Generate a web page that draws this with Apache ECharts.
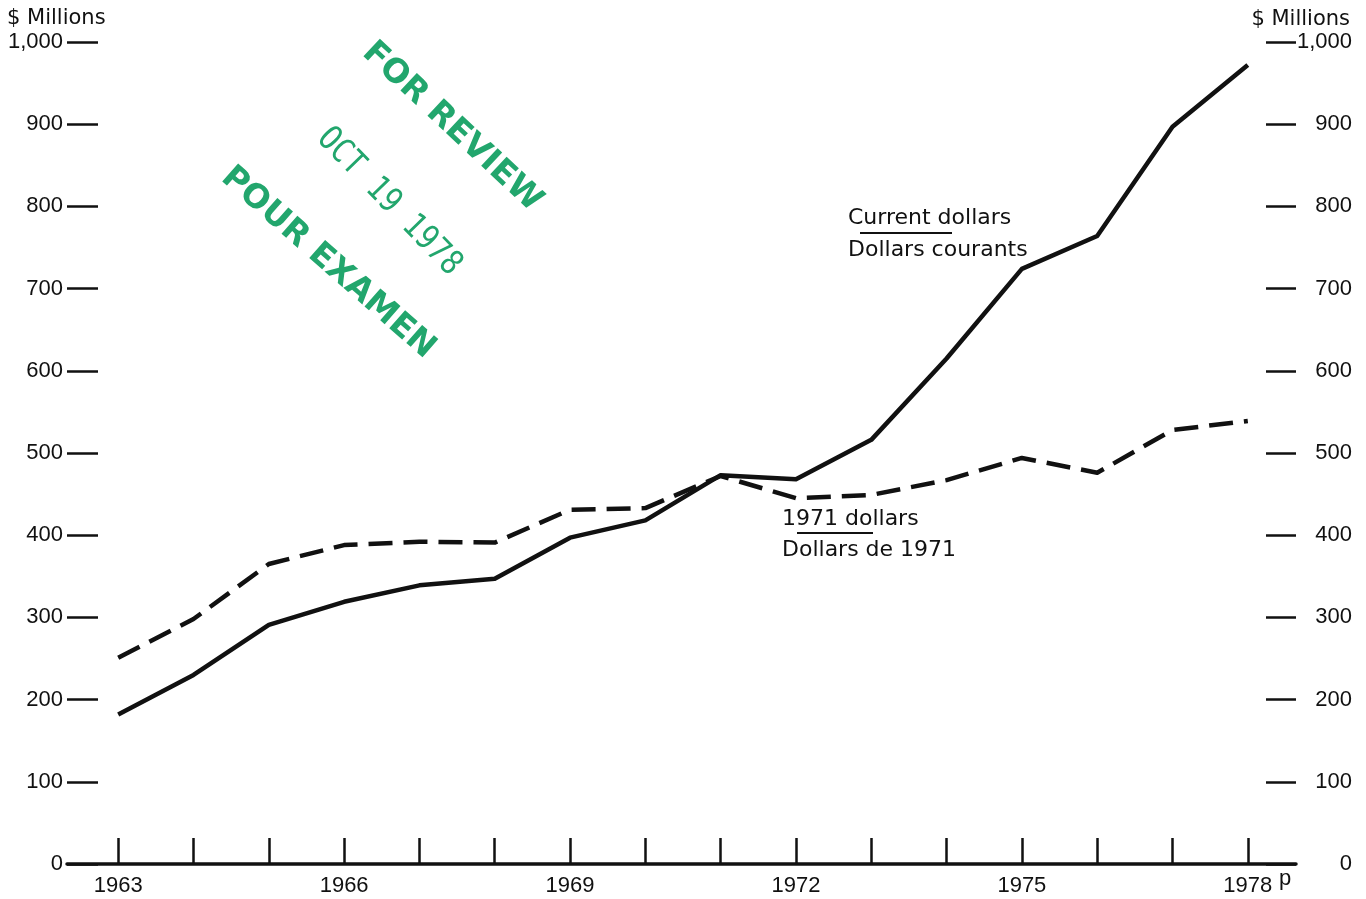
<!DOCTYPE html>
<html>
<head>
<meta charset="utf-8">
<title>$ Millions 1963-1978</title>
<script src="https://cdn.jsdelivr.net/npm/echarts@6/dist/echarts.min.js"></script>
<style>
    html, body { margin: 0; padding: 0; background: #fff; }
    #chart { width: 1366px; height: 899px; }
</style>
</head>
<body>
<div id="chart"></div>
<script>
    // years on the x axis
    const years = [1963, 1964, 1965, 1966, 1967, 1968, 1969, 1970, 1971, 1972, 1973, 1974, 1975, 1976, 1977, 1978];
    const yearLabels = [1963, 1966, 1969, 1972, 1975, 1978];
    // Current dollars / Dollars courants
    const currentDollars = [182, 230, 291, 319, 339, 347, 397, 418, 473, 468, 516, 615, 724, 764, 897, 972];
    // 1971 dollars / Dollars de 1971
    const dollars1971 = [251, 298, 365, 388, 392, 391, 431, 433, 472, 445, 449, 467, 494, 476, 528, 539];
    const yMin = 0, yMax = 1000, yStep = 100;

    const ink = '#111';
    const stampGreen = '#22a66d';
    const tickFont = '"Liberation Sans", Arial, sans-serif';
    const textFont = '"DejaVu Sans", sans-serif';

    let chart = echarts.init(document.getElementById('chart'));

    //y axes, left and right are the same
    function makeYAxis(pos) {
        return {
            type: 'value',
            position: pos,
            min: yMin,
            max: yMax,
            interval: yStep,
            splitLine: {show: false},
            axisLine: {show: false},
            axisTick: {
                show: true,
                inside: true,
                length: pos === 'left' ? 31 : 30,
                lineStyle: {color: ink, width: 2.5}
            },
            axisLabel: {
                color: ink,
                fontFamily: tickFont,
                fontSize: 22,
                margin: pos === 'left' ? 4 : 56,
                align: 'right'
            }
        };
    }

    chart.setOption({
        backgroundColor: '#fff',
        animation: false,
        grid: {
            left: 67,
            right: 70,
            top: 42,
            bottom: 35,
            containLabel: false,
            outerBoundsMode: 'none'
        },
        xAxis: {
            type: 'value',
            min: 1962.32,
            max: 1978.64,
            splitLine: {show: false},
            axisLine: {show: true, onZero: false, lineStyle: {color: ink, width: 3.5}},
            axisTick: {
                show: true,
                inside: true,
                length: 26,
                customValues: years,
                lineStyle: {color: ink, width: 2.5}
            },
            axisLabel: {
                customValues: yearLabels,
                formatter: function (v) { return String(v); },
                color: ink,
                fontFamily: tickFont,
                fontSize: 22,
                margin: 11
            }
        },
        yAxis: [makeYAxis('left'), makeYAxis('right')],
        series: [
            {
                name: 'Current dollars',
                type: 'line',
                showSymbol: false,
                data: years.map((y, i) => [y, currentDollars[i]]),
                lineStyle: {color: ink, width: 4.5, cap: 'butt', join: 'round'}
            },
            {
                name: '1971 dollars',
                type: 'line',
                showSymbol: false,
                data: years.map((y, i) => [y, dollars1971[i]]),
                lineStyle: {color: ink, width: 4.5, type: [24, 11], cap: 'butt', join: 'round'}
            }
        ],
        graphic: [
            //axis titles
            {type: 'text', x: 7, y: 19, style: {text: '$ Millions', fill: ink, font: '21px ' + textFont, verticalAlign: 'middle'}},
            {type: 'text', x: 1350, y: 20, style: {text: '$ Millions', fill: ink, font: '21px ' + textFont, align: 'right', verticalAlign: 'middle'}},
            {type: 'text', x: 1279, y: 879, style: {text: 'p', fill: ink, font: '22px ' + tickFont, verticalAlign: 'middle'}},
            //series labels
            {type: 'text', x: 848, y: 218, style: {text: 'Current dollars', fill: ink, font: '22px ' + textFont, verticalAlign: 'middle'}},
            {type: 'line', shape: {x1: 860, y1: 233, x2: 952, y2: 233}, style: {stroke: ink, lineWidth: 2}},
            {type: 'text', x: 848, y: 250, style: {text: 'Dollars courants', fill: ink, font: '22px ' + textFont, verticalAlign: 'middle'}},
            {type: 'text', x: 782, y: 519, style: {text: '1971 dollars', fill: ink, font: '22px ' + textFont, verticalAlign: 'middle'}},
            {type: 'line', shape: {x1: 797, y1: 533, x2: 873, y2: 533}, style: {stroke: ink, lineWidth: 2}},
            {type: 'text', x: 782, y: 550, style: {text: 'Dollars de 1971', fill: ink, font: '22px ' + textFont, verticalAlign: 'middle'}},
            //green review stamp
            {type: 'text', x: 452, y: 127, rotation: -0.75, style: {text: 'FOR REVIEW', fill: stampGreen, font: 'bold 33px ' + textFont, align: 'center', verticalAlign: 'middle'}},
            {type: 'text', x: 389, y: 202, rotation: -0.8, scaleX: 0.85, style: {text: 'OCT 19 1978', fill: stampGreen, font: '34px "DejaVu Sans Mono", monospace', align: 'center', verticalAlign: 'middle'}},
            {type: 'text', x: 328, y: 263, rotation: -0.72, style: {text: 'POUR EXAMEN', fill: stampGreen, font: 'bold 33px ' + textFont, align: 'center', verticalAlign: 'middle'}}
        ]
    });
</script>
</body>
</html>
